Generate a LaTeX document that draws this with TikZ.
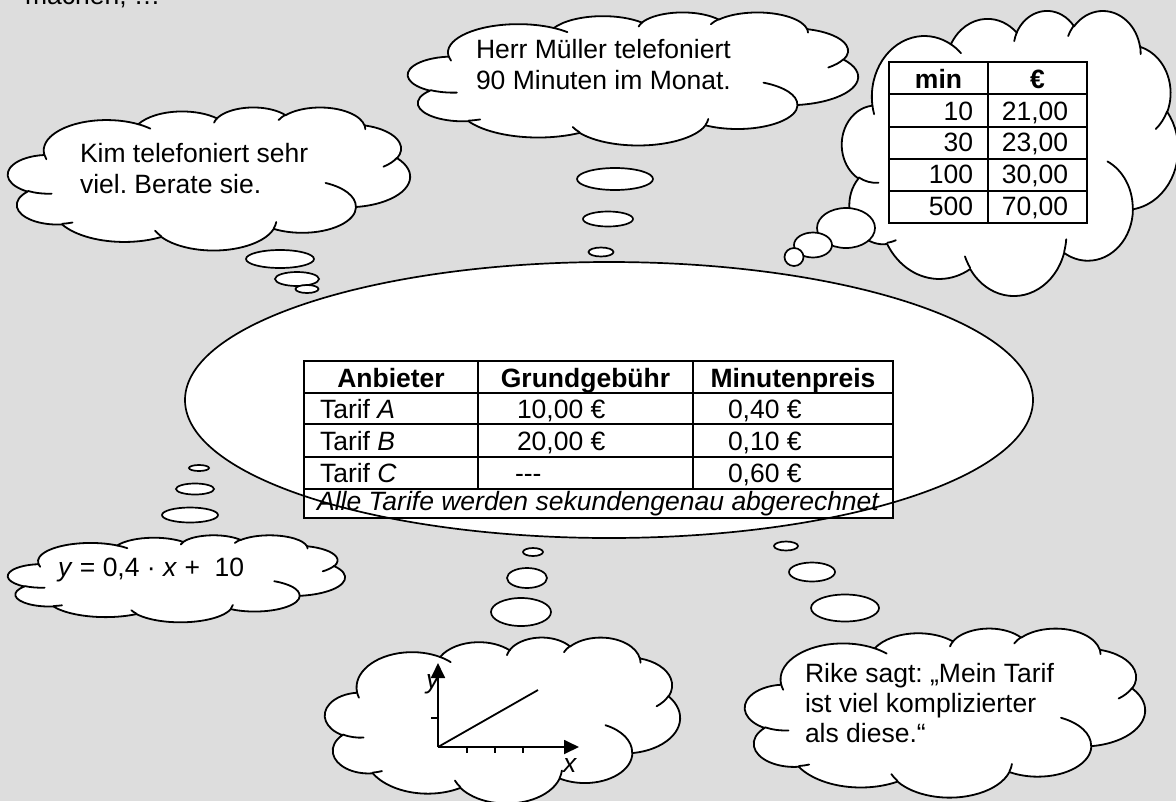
\documentclass[tikz,border=0pt]{standalone}
\usepackage{fontspec}
\setmainfont{Liberation Sans}
\usetikzlibrary{arrows.meta,shapes.geometric}
\definecolor{bgray}{RGB}{221,221,221}
\frenchspacing

\newcommand\carc[4]{arc[x radius=#1, y radius=#2, start angle={pa(#1,#2,#3)}, delta angle={pd(#1,#2,#3,#4)}]}
\newcommand\cloudpath{(3.9,14.37)
 \carc{6.753}{9.19}{-190.4875}{123.7805}
 \carc{5.333}{7.267}{-144.1024}{89.9452}
 \carc{4.365}{5.945}{-145.8079}{99.723}
 \carc{4.857}{6.595}{-130.9861}{117.2417}
 \carc{5.333}{7.273}{-78.7089}{109.0269}
 \carc{6.775}{9.22}{-46.2673}{130.269}
 \carc{5.785}{7.867}{0.625}{114.0333}
 \carc{6.752}{9.215}{22.4516}{115.1726}
 \carc{7.72}{10.543}{66.2426}{75.711}
 \carc{4.36}{5.918}{-274.9421}{146.7356}
 \carc{4.345}{5.945}{-246.8285}{152.5189}
 -- cycle}
\newcommand\cloudinner{
 (4.693,26.177) \carc{4.345}{5.945}{86.742}{26.4295}
 (6.928,34.899) \carc{4.36}{5.918}{73.6105}{11.4475}
 (16.478,39.09) \carc{6.752}{9.215}{137.6242}{14.0811}
 (28.827,34.751) \carc{6.752}{9.215}{6.4533}{15.9984}
 (34.129,22.954) \carc{5.785}{7.867}{-70.2924}{70.9174}
 (41.798,15.354) \carc{5.333}{7.273}{30.318}{27.7515}
 (38.324,5.426) \carc{4.857}{6.595}{-13.7443}{14.8589}
 (29.078,3.952) \carc{4.857}{6.595}{-149.1815}{18.1954}
 (22.141,4.72) \carc{4.365}{5.945}{-163.4943}{17.6864}
 (14,5.192) \carc{6.753}{9.19}{-66.707}{12.3194}
 (4.127,15.789) \carc{6.753}{9.19}{157.6544}{11.8582}
}
\newcommand\mycloud[5]{%
  \pgfmathsetmacro\cloudsx{#4/43.2}\pgfmathsetmacro\cloudsy{#5/43.2}%
  \begin{scope}[shift={(#2,#3)}, x=\cloudsx pt, y=-\cloudsy pt]
    \path[cloudfill] \cloudpath;
    \draw[cloudline] \cloudinner;
    \coordinate (#1) at (21.6,21.6);
  \end{scope}}

\tikzset{
  declare function={
    pa(\Xw,\Xh,\Xa)=atan2(\Xw*sin(\Xa),\Xh*cos(\Xa));
    pd(\Xw,\Xh,\Xa,\Xs)=pa(\Xw,\Xh,\Xa+\Xs)-pa(\Xw,\Xh,\Xa)+360*round((\Xs-(pa(\Xw,\Xh,\Xa+\Xs)-pa(\Xw,\Xh,\Xa)))/360);
  },
  cloudfill/.style={fill=white, draw=black, line width=1.8pt, line join=round},
  cloudline/.style={draw=black, line width=1.8pt, line cap=round},
  bubble/.style={ellipse, fill=white, draw=black, line width=1.7pt, inner sep=0pt, outer sep=0pt},
  tline/.style={line width=2.2pt},
  txt/.style={inner sep=0pt, outer sep=0pt, font=\fontsize{26.5}{31}\selectfont},
  axis/.style={line width=1.8pt, -{Triangle[length=15pt,width=14pt]}},
  thin/.style={line width=1.8pt},
}

\begin{document}
\begin{tikzpicture}[x=1pt, y=-1pt]
\useasboundingbox (0,0) rectangle (1176,801);
\clip (0,0) rectangle (1176,801);
\fill[bgray] (0,0) rectangle (1176,801);

\node[txt, anchor=base west] (top) at (25,4) {machen, …};

% main ellipse (fill)
\node[ellipse, fill=white, minimum width=848pt, minimum height=276pt, inner sep=0pt] (main) at (609,400) {};

% clouds
\mycloud{kim}{8}{107}{402}{143}
\mycloud{mueller}{408}{12}{450}{133}
\mycloud{tabcloud}{842}{10}{336}{285}
\mycloud{formula}{8}{535}{337}{87}
\mycloud{graph}{325}{637}{355}{166}
\mycloud{rike}{745}{628}{400}{169}

% bubbles
\node[bubble, minimum width=68pt, minimum height=18pt] (kb1) at (280,259) {};
\node[bubble, minimum width=44pt, minimum height=14pt] (kb2) at (297,279) {};
\node[bubble, minimum width=23pt, minimum height=8pt] (kb3) at (307,289) {};

\node[bubble, minimum width=76pt, minimum height=22pt] (mb1) at (615,179) {};
\node[bubble, minimum width=50pt, minimum height=15pt] (mb2) at (608,219) {};
\node[bubble, minimum width=25pt, minimum height=9pt] (mb3) at (601,252) {};

\node[bubble, minimum width=58pt, minimum height=40pt] (tb1) at (846,228) {};
\node[bubble, minimum width=38pt, minimum height=25pt] (tb2) at (813,245) {};
\node[bubble, minimum width=19pt, minimum height=18pt] (tb3) at (794,257) {};

\node[bubble, minimum width=56pt, minimum height=15pt] (fb1) at (190,515) {};
\node[bubble, minimum width=38pt, minimum height=11pt] (fb2) at (195,489) {};
\node[bubble, minimum width=20pt, minimum height=6pt] (fb3) at (199,468) {};

\node[bubble, minimum width=20pt, minimum height=8pt] (gb1) at (533,552) {};
\node[bubble, minimum width=40pt, minimum height=20pt] (gb2) at (527,578) {};
\node[bubble, minimum width=60pt, minimum height=28pt] (gb3) at (521,612) {};

\node[bubble, minimum width=24pt, minimum height=9pt] (rb1) at (786,546) {};
\node[bubble, minimum width=46pt, minimum height=19pt] (rb2) at (812,572) {};
\node[bubble, minimum width=68pt, minimum height=27pt] (rb3) at (845,608) {};

% cloud texts
\node[txt, anchor=base west] (kim1) at (80,162) {Kim telefoniert sehr};
\node[txt, anchor=base west] (kim2) at (80,193) {viel. Berate sie.};
\node[txt, anchor=base west] (mu1) at (476,58) {Herr Müller telefoniert};
\node[txt, anchor=base west] (mu2) at (476,89) {90 Minuten im Monat.};
\node[txt, anchor=base west] (fo) at (58,576) {\textit{y} = 0,4 · \textit{x} +\ \ 10};
\node[txt, anchor=base west] (ri1) at (805,682) {Rike sagt: „Mein Tarif};
\node[txt, anchor=base west] (ri2) at (805,712) {ist viel komplizierter};
\node[txt, anchor=base west] (ri3) at (805,742) {als diese.“};

% graph
\node[txt, anchor=base west] (ylab) at (426,688) {\textit{y}};
\node[txt, anchor=base west] (xlab) at (563,772) {\textit{x}};
\coordinate (O) at (438,747);
\coordinate (xe) at (579,747);
\coordinate (ye) at (438,663);
\coordinate (le) at (538,690);
\draw[thin] (O) -- (le);
\foreach \tx in {467,495,523} \draw[thin] (\tx,747) -- (\tx,753);
\draw[thin] (431,718) -- (438,718);
\draw[axis] (O) -- (xe);
\draw[axis] (O) -- (ye);

% small table
\fill[white] (889,62) rectangle (1087,223);
\node[txt, anchor=base, font=\fontsize{26.5}{31}\selectfont\bfseries] (hmin) at (938.5,88) {min};
\node[txt, anchor=base, font=\fontsize{26.5}{31}\selectfont\bfseries] (heur) at (1037.5,88) {€};
\foreach \m/\e/\yy [count=\i] in {10/21{,}00/120, 30/23{,}00/151, 100/30{,}00/183, 500/70{,}00/215}{
  \node[txt, anchor=base east] (m\i) at (973,\yy) {\m};
  \node[txt, anchor=base] (e\i) at (1035,\yy) {\e};
}
\draw[tline] (889,62) rectangle (1087,223);
\foreach \yy in {94,127,159,191} \draw[tline] (889,\yy) -- (1087,\yy);
\draw[tline] (988,62) -- (988,223);

% main table
\fill[white] (304,361) rectangle (893,518);
\node[txt, anchor=base, font=\fontsize{26.5}{31}\selectfont\bfseries] (h1) at (391,387) {Anbieter};
\node[txt, anchor=base, font=\fontsize{26.5}{31}\selectfont\bfseries] (h2) at (585.5,387) {Grundgebühr};
\node[txt, anchor=base, font=\fontsize{26.5}{31}\selectfont\bfseries] (h3) at (793,387) {Minutenpreis};
\node[txt, anchor=base west] (ta) at (320,418) {Tarif \textit{A}};
\node[txt, anchor=base west] (ga) at (517,418) {10,00 €};
\node[txt, anchor=base west] (pa) at (728,418) {0,40 €};
\node[txt, anchor=base west] (tb) at (320,450) {Tarif \textit{B}};
\node[txt, anchor=base west] (gb) at (517,450) {20,00 €};
\node[txt, anchor=base west] (pb) at (728,450) {0,10 €};
\node[txt, anchor=base west] (tc) at (320,482) {Tarif \textit{C}};
\node[txt, anchor=base west] (gc) at (515,482) {-\kern0pt-\kern0pt-};
\node[txt, anchor=base west] (pc) at (728,482) {0,60 €};
\node[txt, anchor=base] (note) at (598.5,510) {\textit{Alle Tarife werden sekundengenau abgerechnet}};
\draw[tline] (304,361) rectangle (893,518);
\foreach \yy in {393,424,457,489} \draw[tline] (304,\yy) -- (893,\yy);
\draw[tline] (478,361) -- (478,489);
\draw[tline] (693,361) -- (693,489);

% main ellipse outline on top
\draw[line width=1.7pt] (main.center) ellipse [x radius=424, y radius=138];
\end{tikzpicture}
\end{document}
